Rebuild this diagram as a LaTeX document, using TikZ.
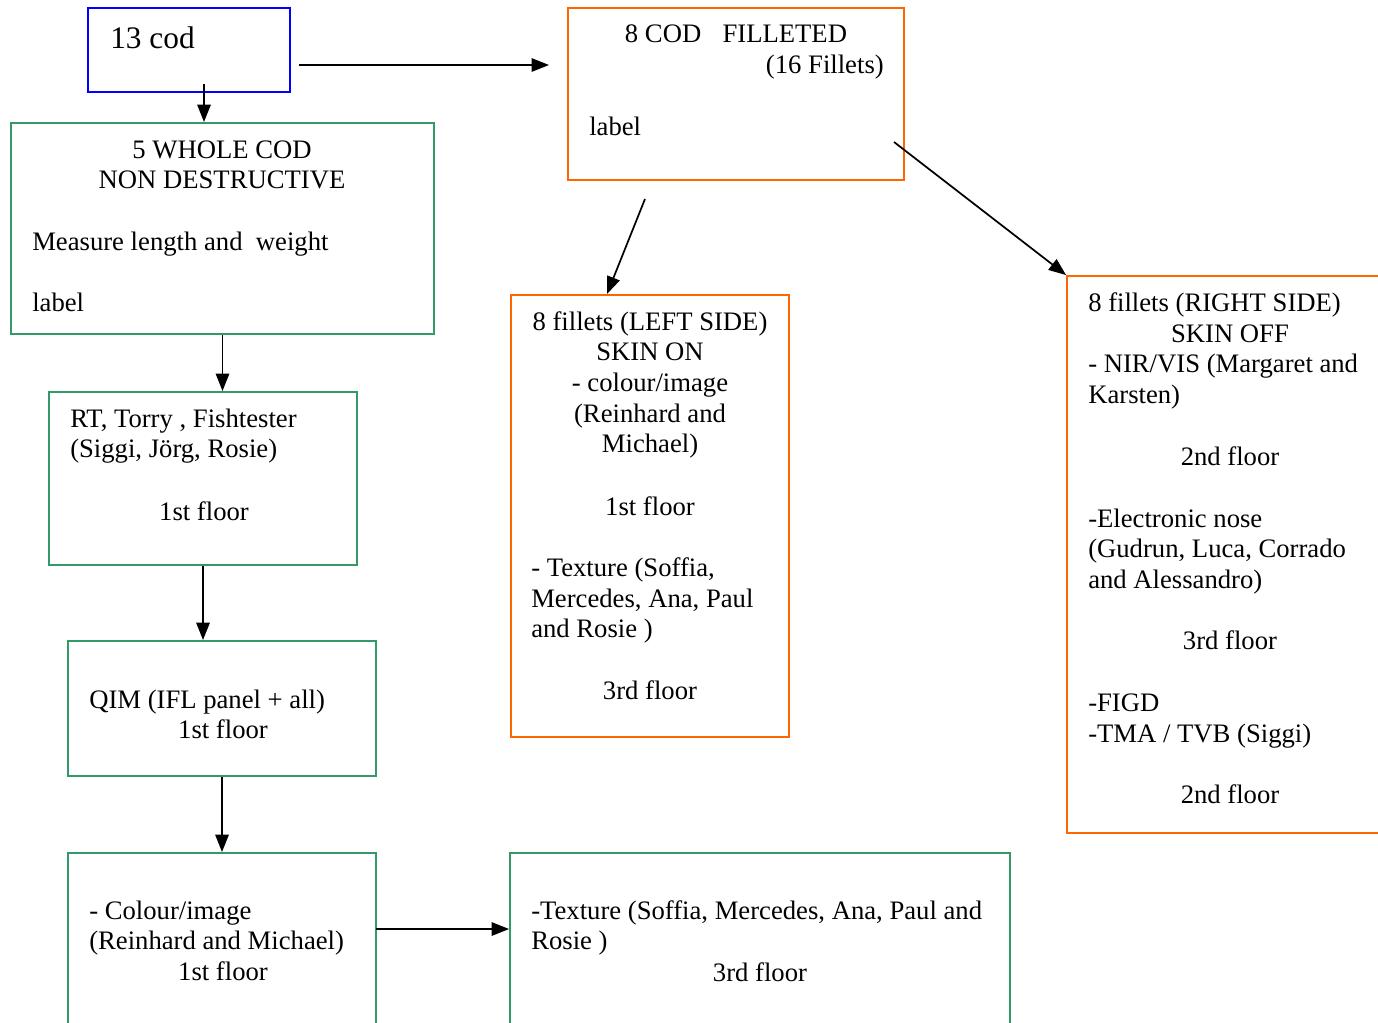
\documentclass[tikz,border=0pt]{standalone}
\usepackage{fontspec}
\setmainfont{Liberation Serif}
\usetikzlibrary{arrows.meta}
\definecolor{colBlue}{RGB}{0,0,255}
\definecolor{colGreen}{RGB}{51,153,102}
\definecolor{colOrange}{RGB}{255,102,0}
\tikzset{
  box/.style 2 args={draw, line width=1.4pt, inner sep=0pt,
    minimum width=#1*0.75pt, minimum height=#2*0.75pt},
  bbox/.style 2 args={box={#1}{#2}, colBlue},
  gbox/.style 2 args={box={#1}{#2}, colGreen},
  obox/.style 2 args={box={#1}{#2}, colOrange},
  txt/.style={anchor=base west, inner sep=0pt, font=\fontsize{20}{24}\selectfont},
  ctxt/.style={txt, anchor=base},
  arr/.style={line width=1.3pt, -{Triangle[length=13pt,width=10pt]}}
}

\begin{document}
\begin{tikzpicture}[x=0.75pt, y=-0.75pt]
  \useasboundingbox (0,0) rectangle (1378,1023);
  \clip (0,0) rectangle (1378,1023);

  %%% Boxes
  \node[bbox={202}{84}]  (cod)     at (189, 50)    {};
  \node[obox={336}{172}] (fillet)  at (736, 94)    {};
  \node[gbox={423}{211}] (whole)   at (222.5, 228.5) {};
  \node[gbox={308}{173}] (rt)      at (203, 478.5) {};
  \node[gbox={308}{135}] (qim)     at (222, 708.5) {};
  \node[gbox={308}{207}] (colour)  at (222, 956.5) {};
  \node[gbox={500}{207}] (texture) at (760, 956.5) {};
  \node[obox={278}{442}] (left)    at (650, 516)   {};
  \node[obox={353}{557}] (right)   at (1243.5, 554.5) {};

  %%% Free ends of the connectors
  \coordinate (codE)    at (299, 65);
  \coordinate (filletW) at (549, 65);
  \coordinate (codS)    at (204, 84);
  \coordinate (filletS) at (645, 199);
  \coordinate (leftN)   at (607, 294);
  \coordinate (filletE) at (894, 142);
  \coordinate (colourE) at (376, 929);

  %%% Connectors
  \draw[arr] (codE) -- (filletW);
  \draw[arr] (codS) -- (codS |- whole.north);
  \draw[arr] (whole.south) -- (whole.south |- rt.north);
  \draw[arr] (rt.south) -- (rt.south |- qim.north);
  \draw[arr] (qim.south) -- (colour.north);
  \draw[arr] (colourE) -- (colourE -| texture.west);
  \draw[arr] (filletS) -- (leftN);
  \draw[arr] (filletE) -- (right.north west);

  %%% Top
  \node[txt, font=\fontsize{23.5}{28}\selectfont] (t1) at (110, 49) {13 cod};
  \node[ctxt] (f1) at (736, 43)  {8 COD\hspace{0.8em}FILLETED};
  \node[txt, anchor=base east] (f2) at (884, 74) {(16 Fillets)};
  \node[txt]  (f3) at (589, 136) {label};

  %%% Whole cod
  \node[ctxt] (w1) at (222, 159) {5 WHOLE COD};
  \node[ctxt] (w2) at (222, 189) {NON DESTRUCTIVE};
  \node[txt]  (w3) at (32, 251)  {Measure length and\ \ weight};
  \node[txt]  (w4) at (32, 312)  {label};

  %%% Left column
  \node[txt]  (r1) at (70, 427)  {RT, Torry , Fishtester};
  \node[txt]  (r2) at (70, 458)  {(Siggi, Jörg, Rosie)};
  \node[ctxt] (r3) at (204, 520) {1st floor};
  \node[txt]  (q1) at (89, 708)  {QIM (IFL panel + all)};
  \node[ctxt] (q2) at (223, 738) {1st floor};
  \node[txt]  (c1) at (89, 919)  {- Colour/image};
  \node[txt]  (c2) at (89, 949)  {(Reinhard and Michael)};
  \node[ctxt] (c3) at (223, 980) {1st floor};

  %%% Bottom right
  \node[txt]  (x1) at (531, 919) {-Texture (Soffia, Mercedes, Ana, Paul and};
  \node[txt]  (x2) at (531, 949) {Rosie )};
  \node[ctxt] (x3) at (760, 981) {3rd floor};

  %%% Left side fillets
  \node[ctxt] (l1) at (650, 331) {8 fillets (LEFT SIDE)};
  \node[ctxt] (l2) at (650, 361) {SKIN ON};
  \node[ctxt] (l3) at (650, 392) {- colour/image};
  \node[ctxt] (l4) at (650, 423) {(Reinhard and};
  \node[ctxt] (l5) at (650, 453) {Michael)};
  \node[ctxt] (l6) at (650, 515) {1st floor};
  \node[txt]  (l7) at (531, 576) {- Texture (Soffia,};
  \node[txt]  (l8) at (531, 607) {Mercedes, Ana, Paul};
  \node[txt]  (l9) at (531, 637) {and Rosie )};
  \node[ctxt] (l10) at (650, 699) {3rd floor};

  %%% Right side fillets
  \node[txt]  (s1) at (1088, 312)  {8 fillets (RIGHT SIDE)};
  \node[ctxt] (s2) at (1230, 343)  {SKIN OFF};
  \node[txt]  (s3) at (1088, 373)  {- NIR/VIS (Margaret and};
  \node[txt]  (s4) at (1088, 404)  {Karsten)};
  \node[ctxt] (s5) at (1230, 465)  {2nd floor};
  \node[txt]  (s6) at (1088, 527)  {-Electronic nose};
  \node[txt]  (s7) at (1088, 557)  {(Gudrun, Luca, Corrado};
  \node[txt]  (s8) at (1088, 588)  {and Alessandro)};
  \node[ctxt] (s9) at (1230, 649)  {3rd floor};
  \node[txt]  (s10) at (1088, 711) {-FIGD};
  \node[txt]  (s11) at (1088, 742) {-TMA / TVB (Siggi)};
  \node[ctxt] (s12) at (1230, 803) {2nd floor};
\end{tikzpicture}
\end{document}
